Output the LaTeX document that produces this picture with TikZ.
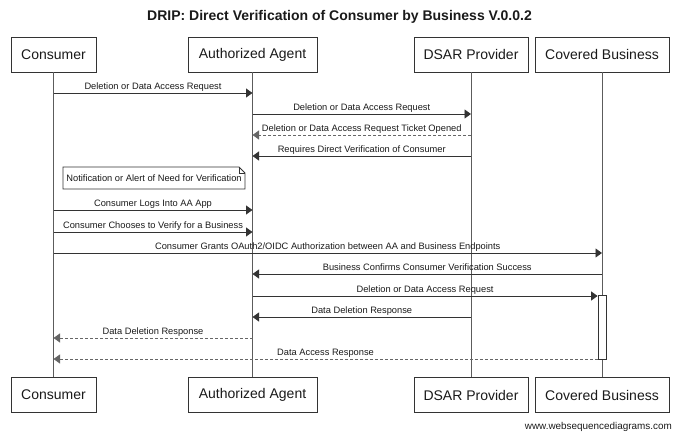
\documentclass[tikz,border=0pt]{standalone}
\usepackage{fontspec}
\setmainfont{Liberation Sans}
\usetikzlibrary{arrows.meta}
\definecolor{ln}{HTML}{333333}
\definecolor{tx}{HTML}{1A1A1A}
\tikzset{
  pbox/.style={draw=ln, line width=0.9pt, fill=white, minimum height=35pt, inner sep=0pt,
    font=\fontsize{14}{16}\selectfont, text=tx},
  life/.style={draw=ln!80, line width=0.9pt},
  msg/.style={draw=ln, line width=0.9pt, -{Triangle[length=6.5pt,width=9pt]}},
  rmsg/.style={msg, draw=ln!75, dash pattern=on 3pt off 2pt},
  lbl/.style={font=\fontsize{9.3}{11}\selectfont, text=tx, anchor=base, inner sep=0pt},
  up/.style={yshift=3.5pt},
  notebox/.style={draw=ln, line width=0.8pt, fill=white},
}
\begin{document}
\begin{tikzpicture}[x=1pt,y=-1pt]
\useasboundingbox (0,0) rectangle (679,436);
% title
\node[font=\bfseries\fontsize{14}{16}\selectfont, text=tx, anchor=base] (title) at (339.5,21) {DRIP: Direct Verification of Consumer by Business V.0.0.2};
% participants top
\node[pbox, minimum width=85pt] (cT) at (53.5,54.5) {Consumer};
\node[pbox, minimum width=129pt] (aT) at (252.5,54.5) {Authorized Agent};
\node[pbox, minimum width=114pt] (dT) at (471,54.5) {DSAR Provider};
\node[pbox, minimum width=134pt] (bT) at (602,54.5) {Covered Business};
% participants bottom
\node[pbox, minimum width=85pt] (cB) at (53.5,395) {Consumer};
\node[pbox, minimum width=129pt] (aB) at (252.5,395) {Authorized Agent};
\node[pbox, minimum width=114pt] (dB) at (471,395) {DSAR Provider};
\node[pbox, minimum width=134pt] (bB) at (602,395) {Covered Business};
% lifelines
\draw[life] (cT.south) -- (cB.north);
\draw[life] (aT.south) -- (aB.north);
\draw[life] (dT.south) -- (dB.north);
\draw[life] (bT.south) -- (bB.north);
% activation
\node[draw=ln, line width=0.8pt, fill=white, minimum width=8pt, minimum height=64pt, inner sep=0pt] (act) at (602,327) {};
% endpoint coordinates
\coordinate (c1) at (53.5,93);   \coordinate (a1) at (252.5,93);
\coordinate (a2) at (252.5,114); \coordinate (d2) at (471,114);
\coordinate (d3) at (471,135);   \coordinate (a3) at (252.5,135);
\coordinate (d4) at (471,156);   \coordinate (a4) at (252.5,156);
\coordinate (c5) at (53.5,210);  \coordinate (a5) at (252.5,210);
\coordinate (c6) at (53.5,232);  \coordinate (a6) at (252.5,232);
\coordinate (c7) at (53.5,253);  \coordinate (b7) at (602,253);
\coordinate (b8) at (602,274);   \coordinate (a8) at (252.5,274);
\coordinate (a9) at (252.5,296); \coordinate (b9) at (act.west |- 0,296);
\coordinate (d10) at (471,317);  \coordinate (a10) at (252.5,317);
\coordinate (a11) at (252.5,338);\coordinate (c11) at (53.5,338);
\coordinate (b12) at (act.west |- 0,359); \coordinate (c12) at (53.5,359);
% messages
\draw[msg] (c1) -- node[lbl, up] {Deletion or Data Access Request} (a1);
\draw[msg] (a2) -- node[lbl, up] {Deletion or Data Access Request} (d2);
\draw[rmsg] (d3) -- node[lbl, up] {Deletion or Data Access Request Ticket Opened} (a3);
\draw[msg] (d4) -- node[lbl, up] {Requires Direct Verification of Consumer} (a4);
% note
\draw[notebox] (63,167) -- (239,167) -- (245,173) -- (245,189) -- (63,189) -- cycle;
\draw[draw=ln, line width=0.6pt] (239,167) -- (239,173) -- (245,173);
\node[lbl, anchor=center] (note) at (154,178.5) {Notification or Alert of Need for Verification};
\draw[msg] (c5) -- node[lbl, up] {Consumer Logs Into AA App} (a5);
\draw[msg] (c6) -- node[lbl, up] {Consumer Chooses to Verify for a Business} (a6);
\draw[msg] (c7) -- node[lbl, up] {Consumer Grants OAuth2/OIDC Authorization between AA and Business Endpoints} (b7);
\draw[msg] (b8) -- node[lbl, up] {Business Confirms Consumer Verification Success} (a8);
\draw[msg] (a9) -- node[lbl, up] {Deletion or Data Access Request} (b9);
\draw[msg] (d10) -- node[lbl, up] {Data Deletion Response} (a10);
\draw[rmsg] (a11) -- node[lbl, up] {Data Deletion Response} (c11);
\draw[rmsg] (b12) -- node[lbl, up] {Data Access Response} (c12);
% watermark
\node[font=\fontsize{9.9}{12}\selectfont, text=tx, anchor=base east, inner sep=0pt] (wm) at (672,429) {www.websequencediagrams.com};
\end{tikzpicture}
\end{document}
